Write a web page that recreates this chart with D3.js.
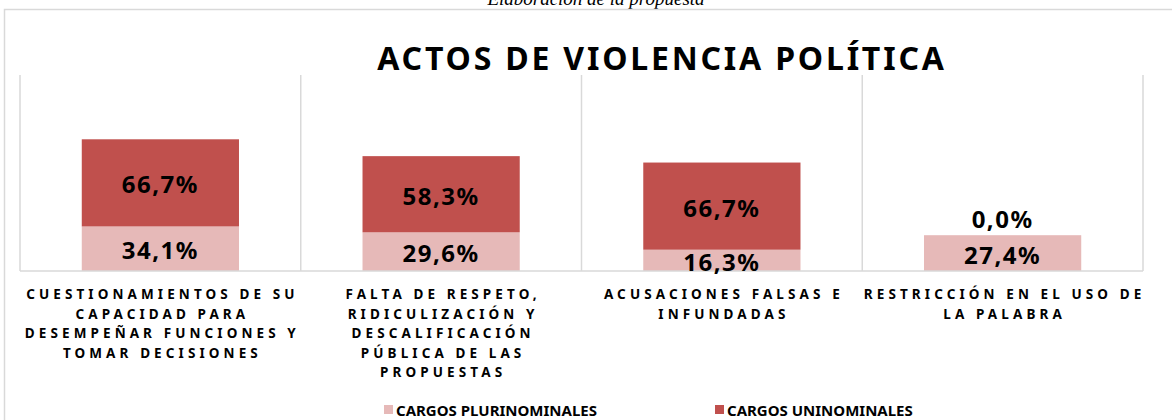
<!DOCTYPE html>
<html>
<head>
<meta charset="utf-8">
<script src="https://cdn.jsdelivr.net/npm/d3@7"></script>
<style>
    body { margin: 0; background: #fff; }
    text { font-family: 'Noto Sans', sans-serif; }
</style>
</head>
<body>
<div id="chart"></div>
<script>

//
// DATA
//

const categories = [
    'CUESTIONAMIENTOS DE SU CAPACIDAD PARA DESEMPEÑAR FUNCIONES Y TOMAR DECISIONES',
    'FALTA DE RESPETO, RIDICULIZACIÓN Y DESCALIFICACIÓN PÚBLICA DE LAS PROPUESTAS',
    'ACUSACIONES FALSAS E INFUNDADAS',
    'RESTRICCIÓN EN EL USO DE LA PALABRA'
];
const categoryLines = [
    ['CUESTIONAMIENTOS DE SU', 'CAPACIDAD PARA', 'DESEMPEÑAR FUNCIONES Y', 'TOMAR DECISIONES'],
    ['FALTA DE RESPETO,', 'RIDICULIZACIÓN Y', 'DESCALIFICACIÓN', 'PÚBLICA DE LAS', 'PROPUESTAS'],
    ['ACUSACIONES FALSAS E', 'INFUNDADAS'],
    ['RESTRICCIÓN EN EL USO DE', 'LA PALABRA']
];
const plurinominales = [34.1, 29.6, 16.3, 27.4];
const uninominales = [66.7, 58.3, 66.7, 0.0];
const seriesNames = ['CARGOS PLURINOMINALES', 'CARGOS UNINOMINALES'];
const seriesKeys = ['pluri', 'uni'];
const colors = ['#E6B9B8', '#C0504D'];
const title = 'ACTOS DE VIOLENCIA POLÍTICA';

//
// CHART
//

const width = 1172;
const height = 420;
const plot = {left: 20, right: 1143, top: 75, bottom: 271};

const svg = d3.select('#chart')
    .append('svg')
        .attr('width', width)
        .attr('height', height);

// caption above the frame (cut at the top, as in the source)
svg.append('text')
    .attr('x', 596)
    .attr('y', 5)
    .attr('text-anchor', 'middle')
    .style('font-family', "'Liberation Serif', serif")
    .style('font-style', 'italic')
    .style('font-size', '19px')
    .text('Elaboración de la propuesta');

// chart frame
svg.append('rect')
    .attr('x', 4.5)
    .attr('y', 9.5)
    .attr('width', width + 20)
    .attr('height', height + 20)
    .attr('fill', 'none')
    .attr('stroke', '#D9D9D9')
    .attr('stroke-width', 1.5);

svg.append('text')
    .attr('x', 662)
    .attr('y', 70)
    .attr('text-anchor', 'middle')
    .style('font-size', '32px')
    .style('font-weight', 'bold')
    .style('letter-spacing', '2.8px')
    .text(title);

// scales
const x = d3.scaleBand()
    .domain(categories)
    .range([plot.left, plot.right])
    .paddingInner(0.44)
    .paddingOuter(0.22);
const y = d3.scaleLinear()
    .domain([0, 150])
    .range([plot.bottom, plot.top]);

// vertical gridlines between categories
const bounds = categories.map(c => x(c) + x.bandwidth() / 2 - x.step() / 2)
    .concat([plot.right]);
svg.append('g')
    .selectAll('line')
    .data(bounds)
    .join('line')
        .attr('x1', d => d)
        .attr('x2', d => d)
        .attr('y1', plot.top)
        .attr('y2', plot.bottom)
        .attr('stroke', '#D9D9D9')
        .attr('stroke-width', 1.5);

// stacked bars
const rows = categories.map((c, i) => ({cat: c, pluri: plurinominales[i], uni: uninominales[i]}));
const stacked = d3.stack().keys(seriesKeys)(rows);

const layers = svg.append('g')
    .selectAll('g')
    .data(stacked)
    .join('g')
        .attr('fill', (d, i) => colors[i]);

layers.selectAll('rect')
    .data(d => d)
    .join('rect')
        .attr('x', d => x(d.data.cat))
        .attr('width', x.bandwidth())
        .attr('y', d => y(d[1]))
        .attr('height', d => y(d[0]) - y(d[1]));

// x axis line
svg.append('line')
    .attr('x1', plot.left)
    .attr('x2', plot.right)
    .attr('y1', plot.bottom)
    .attr('y2', plot.bottom)
    .attr('stroke', '#D9D9D9')
    .attr('stroke-width', 1.5);

// value labels
stacked.forEach(layer => {
    svg.append('g')
        .selectAll('text')
        .data(layer)
        .join('text')
            .attr('x', d => x(d.data.cat) + x.bandwidth() / 2)
            .attr('y', d => {
                const v = d[1] - d[0];
                // zero values sit above the stack
                if (v == 0) return y(d[1]) - 17;
                return (y(d[0]) + y(d[1])) / 2 + 1;
            })
            .attr('text-anchor', 'middle')
            .attr('dominant-baseline', 'central')
            .style('font-size', '24px')
            .style('font-weight', 'bold')
            .style('letter-spacing', '1.5px')
            .text(d => `${(d[1] - d[0]).toFixed(1).replace('.', ',')}%`);
});

// category labels
const catLabels = svg.append('g')
    .selectAll('text')
    .data(categories)
    .join('text')
        .attr('text-anchor', 'middle')
        .attr('dominant-baseline', 'central')
        .style('font-size', '13.5px')
        .style('font-weight', 'bold')
        .style('letter-spacing', '4.1px');

catLabels.each(function(c, i) {
    const cx = x(c) + x.bandwidth() / 2 + 2;
    d3.select(this).selectAll('tspan')
        .data(categoryLines[i])
        .join('tspan')
            .attr('x', cx)
            .attr('y', (d, j) => 294 + j * 19.5)
            .text(d => d);
});

// legend
const legendX = [384, 715];
const legend = svg.append('g')
    .selectAll('g')
    .data(seriesNames)
    .join('g')
        .attr('transform', (d, i) => `translate(${legendX[i]}, 410)`);

legend.append('rect')
    .attr('x', 0)
    .attr('y', -5)
    .attr('width', 9)
    .attr('height', 9)
    .attr('fill', (d, i) => colors[i]);

legend.append('text')
    .attr('x', 12)
    .attr('y', 0)
    .attr('dominant-baseline', 'central')
    .style('font-size', '15px')
    .style('font-weight', 'bold')
    .text(d => d);

</script>
</body>
</html>
